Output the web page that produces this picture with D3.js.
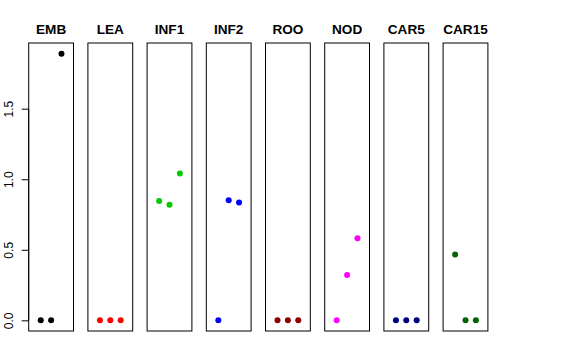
<!DOCTYPE html>
<html>
<head>
<meta charset="utf-8">
<script src="https://cdn.jsdelivr.net/npm/d3@7"></script>
<style>
  body { margin: 0; background: #fff; }
  svg { display: block; }
  text { font-family: "Liberation Sans", Arial, Helvetica, sans-serif; }
</style>
</head>
<body>
<svg id="chart" width="576" height="360"></svg>
<script>
// ---- data ----
const categories = ["EMB", "LEA", "INF1", "INF2", "ROO", "NOD", "CAR5", "CAR15"];
const colors = ["#000000", "#FF0000", "#00CD00", "#0000FF", "#8B0000", "#FF00FF", "#000080", "#006400"];
const positions = [1, 2, 3];
const values = [
  [0, 0, 1.89],
  [0, 0, 0],
  [0.846, 0.82, 1.04],
  [0, 0.851, 0.835],
  [0, 0, 0],
  [0, 0.321, 0.582],
  [0, 0, 0],
  [0.466, 0, 0]
];
const yTicks = [0, 0.5, 1.0, 1.5];
const yTickLabels = ["0.0", "0.5", "1.0", "1.5"];

// ---- layout ----
const svg = d3.select("#chart");
const plotTop = 43, plotBottom = 331;
const panelW = 44.8, pitch = 59.2, left0 = 28.7;

const yMax = d3.max(values.flat());
const pad = yMax * 0.04;
const y = d3.scaleLinear().domain([0 - pad, yMax + pad]).range([plotBottom, plotTop]);

const band = d3.scaleLinear().domain([0, categories.length]).range([left0, left0 + pitch * categories.length]);

categories.forEach((cat, i) => {
  const x0 = band(i);
  const x = d3.scaleLinear().domain([-0.16, 4.16]).range([x0, x0 + panelW]);
  const g = svg.append("g");
  g.append("rect")
    .attr("x", x0).attr("y", plotTop)
    .attr("width", panelW).attr("height", plotBottom - plotTop)
    .attr("fill", "none").attr("stroke", "#000").attr("stroke-width", 1);
  g.append("text")
    .attr("x", x0 + panelW / 2).attr("y", 34)
    .attr("text-anchor", "middle")
    .attr("font-weight", "bold")
    .attr("font-size", "13.6px")
    .text(cat);
  g.selectAll("circle")
    .data(values[i].map((v, j) => ({ p: positions[j], v })))
    .join("circle")
    .attr("cx", d => x(d.p))
    .attr("cy", d => y(d.v))
    .attr("r", 3)
    .attr("fill", colors[i]);
});

// ---- y axis ----
const axis = d3.axisLeft(y)
  .tickValues(yTicks)
  .tickFormat((d, i) => yTickLabels[i])
  .tickSize(7)
  .tickSizeOuter(0);
const ag = svg.append("g")
  .attr("transform", `translate(${left0},0)`)
  .call(axis);
ag.select(".domain").remove();
ag.append("line")
  .attr("x1", 0).attr("x2", 0)
  .attr("y1", y(yTicks[0])).attr("y2", y(yTicks[yTicks.length - 1]))
  .attr("stroke", "#000");
ag.selectAll(".tick line").attr("stroke", "#000");
ag.selectAll(".tick text")
  .attr("font-size", "12px")
  .attr("fill", "#000")
  .attr("font-family", "Liberation Sans, Arial, sans-serif")
  .attr("transform", "translate(-16,0) rotate(-90)")
  .attr("x", 0)
  .attr("y", 0)
  .attr("dy", 0)
  .attr("text-anchor", "middle");
</script>
</body>
</html>
